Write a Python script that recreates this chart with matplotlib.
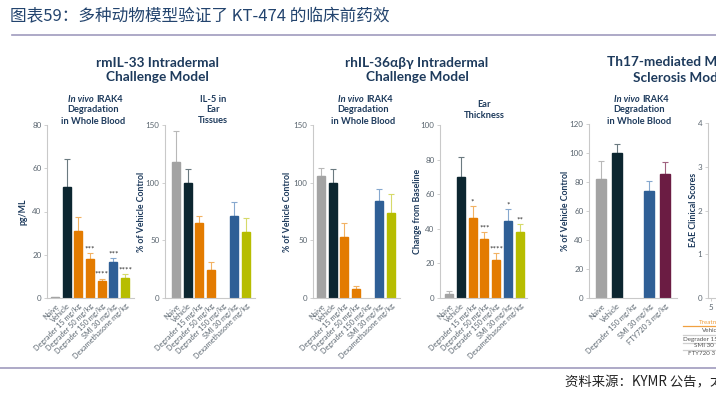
import numpy as np
import matplotlib
matplotlib.use("Agg")
import matplotlib.pyplot as plt

# ---- data ----
groups7 = ["Naive", "Vehicle", "Degrader 15 mg/kg", "Degrader 50 mg/kg",
           "Degrader 150 mg/kg", "SMI 30 mg/kg", "Dexamethasone mg/kg"]
groups5 = ["Naive", "Vehicle", "Degrader 150 mg/kg", "SMI 30 mg/kg", "FTY720 3 mg/kg"]

il33_blood = [0.3, 51.3, 31, 18, 8, 16.6, 9.2]
il33_blood_err = [0.3, 64.5, 37.4, 20.8, 8.9, 18.5, 11]
il33_blood_sig = ["", "", "", "***", "****", "***", "****"]

il5_ear = [118, 100, 65, 24, np.nan, 71, 57]
il5_ear_err = [145, 112, 71, 31, np.nan, 83, 69]

il36_blood = [106, 100, 53, 7.8, np.nan, 84, 74]
il36_blood_err = [113, 112, 65, 10.5, np.nan, 94.5, 90]

ear_thick = [2.5, 70, 46.4, 34, 22, 44.6, 38]
ear_thick_err = [4.2, 81.5, 53, 38, 26, 51.4, 42.6]
ear_thick_sig = ["", "", "*", "***", "****", "*", "**"]

th17_blood = [82, 100, np.nan, 74, 85.5]
th17_blood_err = [94.5, 106, np.nan, 81, 94]

# ---- style ----
W, H = 716, 397
NAVY = "#1d3a5c"
TICK = "#5b6670"
SPINE = "#c9c9c9"
col7 = ["#a3a3a3", "#0c2630", "#e37b00", "#e37b00", "#e37b00", "#2f5f96", "#b7bd00"]
err7 = ["#b8b8b8", "#6b7a80", "#f2b263", "#f2b263", "#f2b263", "#86a8cf", "#d6da6a"]
col5 = ["#a3a3a3", "#0c2630", "#e37b00", "#2f5f96", "#6b1c43"]
err5 = ["#b8b8b8", "#6b7a80", "#f2b263", "#86a8cf", "#a0617f"]

plt.rcParams["font.family"] = ["Lato", "DejaVu Sans"]
fig = plt.figure(figsize=(W / 100, H / 100), dpi=100)


def box(l, t, r, b):
    return [l / W, 1 - b / H, (r - l) / W, (b - t) / H]


def ftext(x, y, s, **kw):
    fig.text(x / W, 1 - y / H, s, **kw)


def panel(l, r, top, bottom, x0, step, ymax, yticks, labels, vals, errs, cols, ecols,
          ylabel, ylabel_x, sig=None):
    ax = fig.add_axes(box(l, top, r, bottom))
    n = len(vals)
    x = np.arange(n)
    ax.set_xlim((l - x0) / step, (r - x0) / step)
    ax.set_ylim(0, ymax)
    for i in range(n):
        if np.isnan(vals[i]):
            continue
        ax.bar(x[i], vals[i], width=0.68, color=cols[i], edgecolor=cols[i], zorder=2)
        if errs[i] > vals[i] + 0.1:
            ax.errorbar(x[i], vals[i], yerr=[[0], [errs[i] - vals[i]]], color=ecols[i],
                        elinewidth=0.8, capsize=2.2, capthick=0.8, zorder=1)
        if sig and sig[i]:
            ax.text(x[i], errs[i] + ymax * 0.005, sig[i], ha="center", va="bottom",
                    fontsize=6, color="#333333")
    ax.set_yticks(yticks)
    ax.set_xticks(x)
    ax.set_xticklabels(labels, rotation=45, ha="right", rotation_mode="anchor",
                       fontsize=5.3, color=TICK)
    ax.tick_params(axis="y", labelsize=5.8, colors=SPINE, labelcolor=TICK, length=2.5,
                   width=0.6, pad=1.5)
    ax.tick_params(axis="x", length=0, pad=3)
    for s in ["top", "right"]:
        ax.spines[s].set_visible(False)
    for s in ["left", "bottom"]:
        ax.spines[s].set_color(SPINE)
        ax.spines[s].set_linewidth(0.8)
    ax.patch.set_alpha(0)
    ftext(ylabel_x, (top + bottom) / 2, ylabel, rotation=90, ha="center", va="center",
          fontsize=6.3, fontweight="bold", color=NAVY)
    return ax


# panels
panel(47, 134, 125, 298, 55, 11.67, 80, [0, 20, 40, 60, 80], groups7,
      il33_blood, il33_blood_err, col7, err7, "pg/ML", 23, il33_blood_sig)
panel(165, 255, 125, 298, 176, 11.67, 150, [0, 50, 100, 150], groups7,
      il5_ear, il5_ear_err, col7, err7, "% of Vehicle Control", 141)
panel(313, 400, 125, 298, 321, 11.67, 150, [0, 50, 100, 150], groups7,
      il36_blood, il36_blood_err, col7, err7, "% of Vehicle Control", 288)
panel(440, 527, 125, 298, 449, 11.8, 100, [0, 20, 40, 60, 80, 100], groups7,
      ear_thick, ear_thick_err, col7, err7, "Change from Baseline", 418, ear_thick_sig)
panel(589, 677, 124, 298, 601, 16, 120, [0, 20, 40, 60, 80, 100, 120], groups5,
      th17_blood, th17_blood_err, col5, err5, "% of Vehicle Control", 565)

# EAE axis (cut off at the right edge)
ax6 = fig.add_axes(box(708, 123, 900, 298))
ax6.set_ylim(0, 4)
ax6.set_xlim(4.6, 30)
ax6.set_yticks([0, 1, 2, 3, 4])
ax6.set_xticks([5, 10, 15, 20, 25])
ax6.tick_params(axis="both", labelsize=5.8, colors=SPINE, labelcolor=TICK, length=2.5,
                width=0.6, pad=1.5)
for s in ["top", "right"]:
    ax6.spines[s].set_visible(False)
for s in ["left", "bottom"]:
    ax6.spines[s].set_color(SPINE)
    ax6.spines[s].set_linewidth(0.8)
ftext(693, 210, "EAE Clinical Scores", rotation=90, ha="center", va="center",
      fontsize=6.3, fontweight="bold", color=NAVY)

# section titles
ftext(157, 70, "rmIL-33 Intradermal\nChallenge Model", ha="center", va="center",
      fontsize=9.8, fontweight="bold", color=NAVY, linespacing=1.15)
ftext(417, 70, "rhIL-36αβγ Intradermal\nChallenge Model", ha="center", va="center",
      fontsize=9.8, fontweight="bold", color=NAVY, linespacing=1.15)
ftext(607, 62, "Th17-mediated Multiple", ha="left", va="center",
      fontsize=9.8, fontweight="bold", color=NAVY)
ftext(633, 78, "Sclerosis Model", ha="left", va="center",
      fontsize=9.8, fontweight="bold", color=NAVY)

# panel subtitles
for cx in [93, 363, 639]:
    ftext(cx + 1, 99, "In vivo", ha="right", va="center", fontsize=6.7,
          fontweight="bold", style="italic", color=NAVY)
    ftext(cx + 3, 99, "IRAK4", ha="left", va="center", fontsize=6.7,
          fontweight="bold", color=NAVY)
    ftext(cx, 110, "Degradation", ha="center", va="center", fontsize=6.7,
          fontweight="bold", color=NAVY)
    ftext(cx, 121, "in Whole Blood", ha="center", va="center", fontsize=6.7,
          fontweight="bold", color=NAVY)
ftext(213, 110, "IL-5 in\nEar\nTissues", ha="center", va="center", fontsize=6.7,
      fontweight="bold", color=NAVY, linespacing=1.2)
ftext(484, 110, "Ear\nThickness", ha="center", va="center", fontsize=6.7,
      fontweight="bold", color=NAVY, linespacing=1.2)

# clipped legend table at bottom right
ftext(699, 322, "Treatment", ha="left", va="center", fontsize=4.5, color="#f0a040")
fig.add_artist(plt.Line2D([683 / W, 1], [1 - 326 / H] * 2, color="#f0a040", lw=0.9))
rows = [("Vehicle", 702, 331), ("Degrader 150 mg/kg", 683, 339),
        ("SMI 30 mg/kg", 694, 346), ("FTY720 3 mg/kg", 688, 354)]
for name, x, y in rows:
    ftext(x, y, name, ha="left", va="center", fontsize=4.5, color="#555555")
for y in [335, 343, 350]:
    fig.add_artist(plt.Line2D([683 / W, 1], [1 - y / H] * 2, color="#cfcfcf", lw=0.9))

# report header / footer
ftext(10, 17, "图表59：多种动物模型验证了 KT-474 的临床前药效", ha="left", va="center",
      fontsize=12, color="#23446e", family=["Noto Sans CJK SC", "DejaVu Sans"])
fig.add_artist(plt.Line2D([12 / W, 1], [1 - 35 / H] * 2, color="#9f9bbd", lw=1.2))
fig.add_artist(plt.Line2D([0, 1], [1 - 368 / H] * 2, color="#9f9bbd", lw=1.2))
ftext(565, 382, "资料来源：KYMR 公告，太平洋证券", ha="left", va="center", fontsize=9.6,
      color="#222222", style="italic", family=["Noto Sans CJK SC", "DejaVu Sans"])

fig.savefig("out.png", dpi=100)
